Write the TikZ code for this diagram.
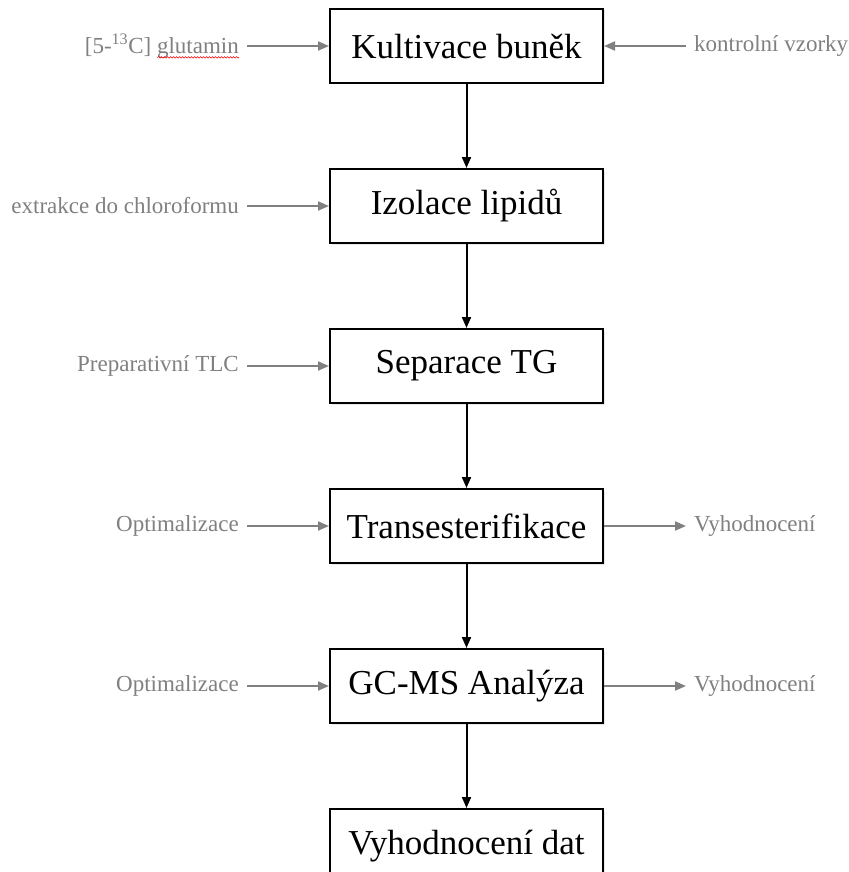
\documentclass[tikz,border=0pt]{standalone}
\usepackage{fontspec}
\setmainfont{Liberation Serif}
\usetikzlibrary{positioning, arrows.meta, shadows, decorations.pathmorphing}
\definecolor{sidegray}{HTML}{808080}
\newlength{\gluwidth}

\begin{document}
\settowidth{\gluwidth}{\fontsize{23}{26}\selectfont glutamin}
\begin{tikzpicture}[
    stepbox/.style={rectangle, draw=black, line width=2pt, fill=white,
                minimum width=273pt, minimum height=74pt, inner sep=0pt,
                font=\fontsize{35}{40}\selectfont,
                drop shadow={shadow xshift=1.5pt, shadow yshift=-1.5pt, opacity=0.18}},
    flow/.style={-{Triangle[length=11pt,width=9pt]}, line width=2pt, black},
    feed/.style={-{Triangle[length=11pt,width=9pt]}, line width=2pt, sidegray},
    side/.style={font=\fontsize{23}{26}\selectfont, text=sidegray,
                 inner xsep=8pt, inner ysep=0pt},
    wave/.style={red, line width=0.5pt, decorate,
                 decoration={snake, amplitude=0.8pt, segment length=3pt}}
]
\useasboundingbox (0,0) rectangle (848pt,-872pt);

\node[stepbox] (kult) at (466.5pt,-46pt) {Kultivace buněk};
\node[stepbox, below=84pt of kult] (izol) {Izolace lipidů};
\node[stepbox, below=84pt of izol] (sep)  {Separace TG};
\node[stepbox, below=84pt of sep]  (trans) {Transesterifikace};
\node[stepbox, below=84pt of trans] (gcms) {GC-MS Analýza};
\node[stepbox, below=84pt of gcms] (vyh)  {Vyhodnocení dat};

\draw[flow] (kult) -- (izol);
\draw[flow] (izol) -- (sep);
\draw[flow] (sep)  -- (trans);
\draw[flow] (trans) -- (gcms);
\draw[flow] (gcms) -- (vyh);

% vstupy zleva
\node[side, left=82pt of kult] (glut) {[5-\textsuperscript{13}C] glutamin};
\node[side, left=82pt of izol] (extr) {extrakce do chloroformu};
\node[side, left=82pt of sep]  (tlc)  {Preparativní TLC};
\node[side, left=82pt of trans] (opt1) {Optimalizace};
\node[side, left=82pt of gcms] (opt2) {Optimalizace};
\draw[wave] ([xshift=-8pt, yshift=-4pt]glut.base east) -- ++(-\gluwidth,0);

\draw[feed] (glut.east) -- (kult.west);
\draw[feed] (extr.east) -- (izol.west);
\draw[feed] (tlc.east)  -- (sep.west);
\draw[feed] (opt1.east) -- (trans.west);
\draw[feed] (opt2.east) -- (gcms.west);

% vpravo
\node[side, right=82pt of kult] (kontr) {kontrolní vzorky};
\node[side, right=82pt of trans] (hod1) {Vyhodnocení};
\node[side, right=82pt of gcms] (hod2) {Vyhodnocení};

\draw[feed] (kontr.west) -- (kult.east);
\draw[feed] (trans.east) -- (hod1.west);
\draw[feed] (gcms.east)  -- (hod2.west);

\end{tikzpicture}
\end{document}
